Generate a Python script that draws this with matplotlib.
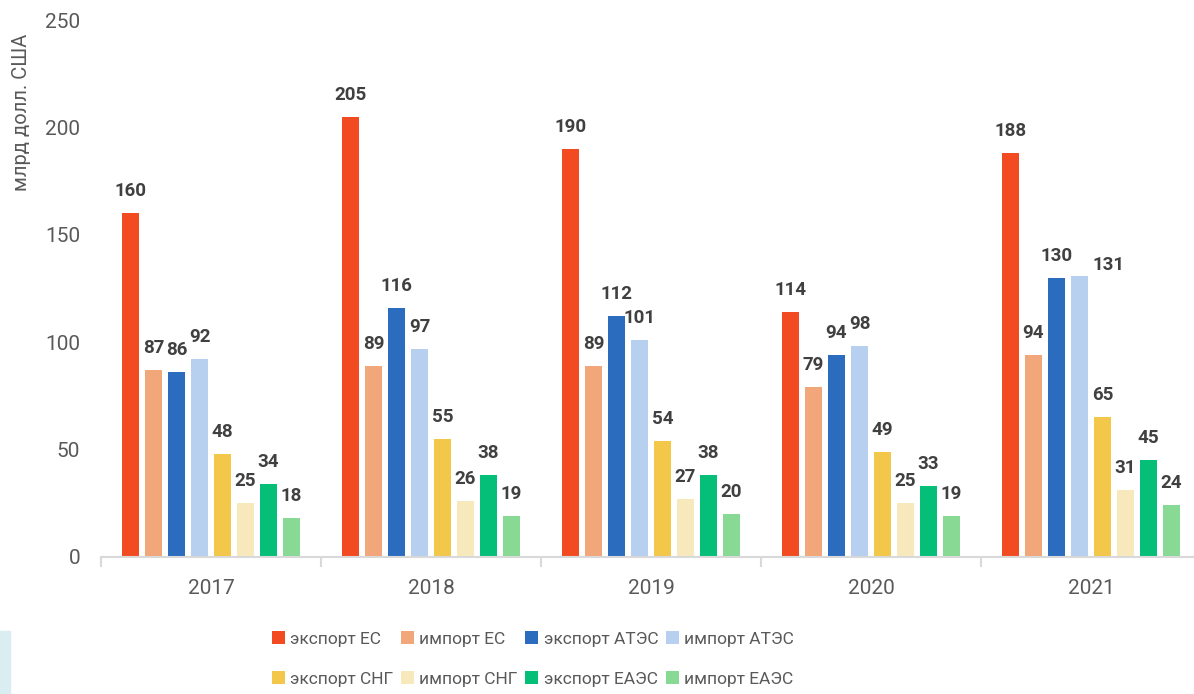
import matplotlib
matplotlib.use("Agg")
import matplotlib.pyplot as plt
from matplotlib.patches import Rectangle
import numpy as np

plt.rcParams['font.family'] = ['Roboto', 'DejaVu Sans']

years = ["2017", "2018", "2019", "2020", "2021"]
series_names = ["экспорт ЕС", "импорт ЕС", "экспорт АТЭС", "импорт АТЭС",
                "экспорт СНГ", "импорт СНГ", "экспорт ЕАЭС", "импорт ЕАЭС"]
export_eu = [160, 205, 190, 114, 188]
import_eu = [87, 89, 89, 79, 94]
export_apec = [86, 116, 112, 94, 130]
import_apec = [92, 97, 101, 98, 131]
export_cis = [48, 55, 54, 49, 65]
import_cis = [25, 26, 27, 25, 31]
export_eaeu = [34, 38, 38, 33, 45]
import_eaeu = [18, 19, 20, 19, 24]

series_values = [export_eu, import_eu, export_apec, import_apec,
                 export_cis, import_cis, export_eaeu, import_eaeu]
colors = ["#F24B22", "#F2A77B", "#2B6CBF", "#B7D0F0",
          "#F2C74A", "#F8E9BD", "#05BE78", "#88D994"]

W, H = 1194, 694
fig = plt.figure(figsize=(W / 100, H / 100), dpi=100)
ax = fig.add_axes([101 / W, 1 - 557 / H, 1100 / W, (557 - 20) / H])

x = np.arange(len(years))
pitch = 23 / 220
width = 17.5 / 220
handles = []
for i, (name, vals, col) in enumerate(zip(series_names, series_values, colors)):
    pos = x + (i - 3.5) * pitch
    bars = ax.bar(pos, vals, width=width, color=col, label=name, zorder=2)
    handles.append(bars)
    for j, (p, v) in enumerate(zip(pos, vals)):
        dx, dy = 0, 17
        # keep the 2021 APEC pair of labels apart
        if i == 3 and j == 4:
            dx, dy = 29, 6
        ax.annotate(str(v), (p, v), xytext=(dx, dy), textcoords="offset pixels",
                    ha="center", va="baseline", fontsize=13.5, fontweight="bold",
                    color="#404040")

ax.set_xlim(-0.5, len(years) - 0.5)
ax.set_ylim(0, 250)
ax.set_yticks(np.arange(0, 251, 50))
ax.set_xticks(x)
ax.set_xticklabels(years)
ax.set_xticks(np.arange(-0.5, len(years)), minor=True)

for s in ["top", "right", "left"]:
    ax.spines[s].set_visible(False)
ax.spines["bottom"].set_color("#D9D9D9")
ax.spines["bottom"].set_linewidth(1.5)

ax.tick_params(axis="x", which="major", length=0, pad=16, labelsize=15,
               labelcolor="#595959")
ax.tick_params(axis="x", which="minor", length=7, width=1.5, color="#D9D9D9")
ax.tick_params(axis="y", length=0, pad=15, labelsize=15, labelcolor="#595959")

fig.text(22 / W, 1 - 112 / H, "млрд долл. США", rotation=90, ha="center",
         va="center", fontsize=14.5, color="#595959")

# legend fills column by column, so interleave to read row by row
order = [0, 4, 1, 5, 2, 6, 3, 7]
leg = fig.legend(handles=[handles[k] for k in order], loc="center", ncol=4,
                 bbox_to_anchor=(533 / W, 1 - 659 / H), frameon=False,
                 fontsize=12.5, labelcolor="#595959", handlelength=0.75,
                 handleheight=0.75, handletextpad=0.3, columnspacing=0.45,
                 labelspacing=1.4, borderaxespad=0)

fig.patches.append(Rectangle((0, 0), 10 / W, (694 - 631) / H,
                             transform=fig.transFigure, color="#DAEEF2",
                             zorder=0))

fig.savefig("out.png", dpi=100)
